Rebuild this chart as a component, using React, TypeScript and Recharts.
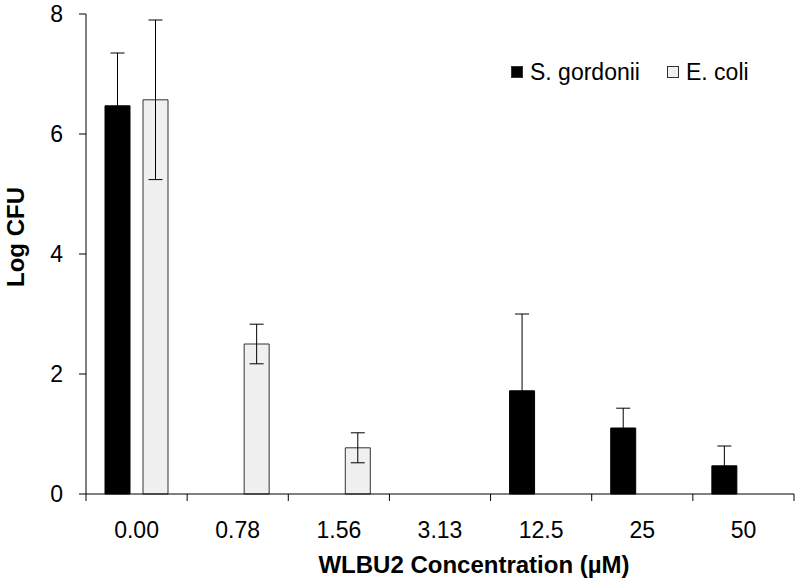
import React from "react";
import {
  BarChart,
  Bar,
  XAxis,
  YAxis,
  ErrorBar,
  Legend,
} from "recharts";

const categories = ["0.00", "0.78", "1.56", "3.13", "12.5", "25", "50"];
const gordoniiMean = [6.47, 0, 0, 0, 1.72, 1.1, 0.47];
const gordoniiErr = [0.88, null, null, null, 1.28, 0.33, 0.33];
const ecoliMean = [6.57, 2.5, 0.77, 0, 0, 0, 0];
const ecoliErr = [1.33, 0.33, 0.25, null, null, null, null];
const yTicks = [0, 2, 4, 6, 8];

const data = categories.map((name, i) => ({
  name,
  gordonii: gordoniiMean[i],
  gordoniiErr: gordoniiErr[i],
  ecoli: ecoliMean[i],
  ecoliErr: ecoliErr[i],
}));

const FONT = '"Liberation Sans", Arial, sans-serif';
const HALF_BAND = (794 - 86) / 7 / 2;

function XTick(props: any) {
  const { x, y, payload, index } = props;
  return (
    <g>
      <line x1={x - HALF_BAND} y1={y} x2={x - HALF_BAND} y2={y + 7} stroke="#000" />
      {index === categories.length - 1 && (
        <line x1={x + HALF_BAND} y1={y} x2={x + HALF_BAND} y2={y + 7} stroke="#000" />
      )}
      <text x={x} y={y + 44} textAnchor="middle" fontSize={23} fontFamily={FONT} fill="#000">
        {payload.value}
      </text>
    </g>
  );
}

function XTitle() {
  return (
    <text x={474} y={573} textAnchor="middle" fontFamily={FONT} fontSize={24} fontWeight="bold" fill="#000">
      WLBU2 Concentration (µM)
    </text>
  );
}

function YTitle() {
  return (
    <text
      transform="translate(24, 237) rotate(-90)"
      textAnchor="middle"
      fontFamily={FONT}
      fontSize={24}
      fontWeight="bold"
      fill="#000"
    >
      Log CFU
    </text>
  );
}

function LegendBox() {
  const item = (fill: string, label: string, gap: number) => (
    <div style={{ display: "flex", alignItems: "center", marginRight: gap }}>
      <span
        style={{
          display: "inline-block",
          width: 10,
          height: 10,
          background: fill,
          border: "1px solid #333",
          marginRight: 7,
        }}
      />
      <span>{label}</span>
    </div>
  );
  return (
    <div style={{ display: "flex", fontFamily: FONT, fontSize: 23, color: "#000", lineHeight: "28px" }}>
      {item("#000", "S. gordonii", 27)}
      {item("#f0f0f0", "E. coli", 0)}
    </div>
  );
}

export default function App() {
  return (
    <div style={{ position: "fixed", left: 0, top: 0, background: "#fff" }}>
      <BarChart
        width={800}
        height={584}
        data={data}
        margin={{ top: 14, right: 6, bottom: 0, left: 0 }}
        barSize={25}
        barGap={13}
      >
        <XAxis
          dataKey="name"
          height={90}
          tickLine={false}
          tickSize={0}
          tickMargin={0}
          axisLine={{ stroke: "#000" }}
          tick={<XTick />}
          interval={0}
          label={<XTitle />}
        />
        <XAxis xAxisId="top" orientation="top" height={0} tick={false} tickLine={false} axisLine={{ stroke: "#000" }} />
        <YAxis
          domain={[0, 8]}
          ticks={yTicks}
          width={86}
          tickSize={7}
          tickMargin={16}
          axisLine={{ stroke: "#000" }}
          tickLine={{ stroke: "#000" }}
          tick={{ fontFamily: FONT, fontSize: 23, fill: "#000" }}
          label={<YTitle />}
        />
        <YAxis yAxisId="right" orientation="right" width={0} tick={false} tickLine={false} axisLine={{ stroke: "#000" }} />
        <Legend
          layout="horizontal"
          verticalAlign="middle"
          align="center"
          content={<LegendBox />}
          wrapperStyle={{ position: "absolute", top: 58, left: 511, width: "auto" }}
        />
        <Bar dataKey="gordonii" name="S. gordonii" fill="#000" stroke="#000" isAnimationActive={false}>
          <ErrorBar dataKey="gordoniiErr" width={7} stroke="#000" strokeWidth={1} direction="y" />
        </Bar>
        <Bar dataKey="ecoli" name="E. coli" fill="#f0f0f0" stroke="#333" isAnimationActive={false}>
          <ErrorBar dataKey="ecoliErr" width={7} stroke="#000" strokeWidth={1} direction="y" />
        </Bar>
      </BarChart>
    </div>
  );
}
